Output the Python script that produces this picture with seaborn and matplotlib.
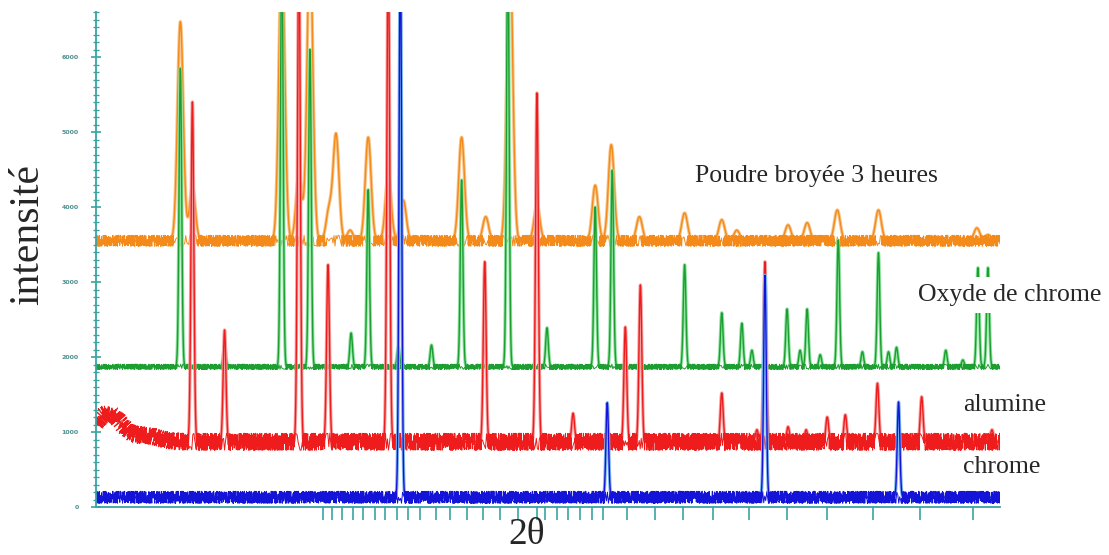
import numpy as np
import pandas as pd
import matplotlib
matplotlib.use("Agg")
import matplotlib.pyplot as plt
import seaborn as sns
from matplotlib.ticker import MultipleLocator, FixedLocator

sns.set_theme(style="white")
plt.rcParams["font.family"] = ["Liberation Serif", "DejaVu Serif"]
plt.rcParams["path.simplify"] = False

# ---------------- data ----------------
series_names = ["Poudre broyée 3 heures", "Oxyde de chrome", "alumine", "chrome"]

# Poudre broyée 3 heures (orange)
poudre_base = 3550
poudre_pos = [18.4, 19.6, 28.5, 30.2, 31.3, 33.2, 33.9, 35.3, 37.1, 39.1, 40.6, 46.4,
              48.8, 51.2, 53.9, 59.7, 61.3, 64.1, 68.6, 72.3, 73.8, 78.9, 80.8, 83.8,
              87.9, 97.7, 98.8]
poudre_int = [6470, 4270, 7500, 4430, 7500, 3960, 4960, 3690, 4930, 4430, 4090, 4930,
              3870, 7500, 4030, 4290, 4830, 3870, 3920, 3830, 3690, 3760, 3790, 3960,
              3960, 3720, 3630]

# Oxyde de chrome (green)
oxyde_base = 1870
oxyde_pos = [18.4, 22.8, 28.5, 31.3, 35.4, 37.1, 40.1, 43.4, 46.4, 51.0, 54.9, 59.7,
             61.4, 68.6, 72.3, 74.3, 75.3, 78.8, 80.1, 80.8, 82.1, 83.9, 86.3, 87.9,
             88.9, 89.7, 94.6, 96.3, 97.8, 98.8]
oxyde_int = [5850, 2160, 7500, 6100, 2320, 4230, 2130, 2160, 4360, 7500, 2390, 4000,
             4490, 3230, 2590, 2450, 2090, 2640, 2090, 2640, 2030, 3560, 2070, 3390,
             2070, 2130, 2090, 1960, 3190, 3190]

# alumine (red)
alumine_base = 870
alumine_pos = [19.6, 22.8, 30.2, 33.1, 39.1, 48.7, 53.9, 57.5, 62.7, 64.2, 72.3, 75.8,
               76.6, 78.9, 80.7, 82.8, 84.6, 87.8, 92.2, 99.2]
alumine_int = [5400, 2360, 7500, 3230, 7500, 3270, 5520, 1250, 2400, 2960, 1520, 1030,
               3270, 1070, 1030, 1200, 1230, 1650, 1470, 1030]
alumine_hump_pos = [11.2, 15.0]
alumine_hump_int = [1250, 950]

# chrome (blue)
chrome_base = 130
chrome_pos = [40.3, 60.9, 76.6, 89.9]
chrome_int = [7500, 1390, 3090, 1400]

y_ticks = [0, 1000, 2000, 3000, 4000, 5000, 6000]
x_tick_marks = [32.6, 33.5, 34.5, 35.6, 36.6, 37.8, 38.8, 40.0, 41.1, 42.3, 43.8, 45.2,
                46.9, 48.5, 50.2, 52.0, 53.9, 54.7, 55.9, 57.0, 58.2, 59.4, 60.5, 62.9,
                65.7, 68.4, 71.4, 75.0, 78.8, 82.8, 87.4, 92.0, 97.3]

# ---------------- build profiles from the peak lists ----------------
two_theta = np.arange(10.0, 100.0001, 0.02)


def gauss_sum(base, pos, inten, sigma):
    y = np.zeros_like(two_theta)
    for x0, a in zip(pos, inten):
        y += (a - base) * np.exp(-0.5 * ((two_theta - x0) / sigma) ** 2)
    return y


def build(base, pos, inten, sigma, hump_pos=(), hump_int=(), hump_sigma=1.3):
    broad = base + gauss_sum(base, hump_pos, hump_int, hump_sigma)
    full = broad + gauss_sum(base, pos, inten, sigma)
    return broad, full


curves = {
    series_names[0]: build(poudre_base, poudre_pos, poudre_int, 0.29),
    series_names[1]: build(oxyde_base, oxyde_pos, oxyde_int, 0.13),
    series_names[2]: build(alumine_base, alumine_pos, alumine_int, 0.14,
                           alumine_hump_pos, alumine_hump_int),
    series_names[3]: build(chrome_base, chrome_pos, chrome_int, 0.13),
}

styles = {
    series_names[0]: dict(color="#f38a1a", light="#f9c58a", noise=(5.5, 1.0, 4.0), cap=250),
    series_names[1]: dict(color="#1c9e30", light="#8fe3a0", noise=(2.6, 1.0, 4.0), cap=120),
    series_names[2]: dict(color="#ee1c1c", light="#f7a0a0", noise=(8.5, 1.0, 4.0), cap=200),
    series_names[3]: dict(color="#1414d8", light="#7fb6f0", noise=(6.0, 1.0, 4.0), cap=150),
}

# ---------------- figure ----------------
fig = plt.figure(figsize=(11.09, 5.55), dpi=100)
ax = fig.add_axes([96 / 1109, 48 / 555, 904 / 1109, 495 / 555])

for name in series_names:
    broad, y = curves[name]
    st = styles[name]
    df = pd.DataFrame({"2theta": two_theta, "I": y})
    sns.lineplot(data=df, x="2theta", y="I", color=st["light"], lw=2.4,
                 estimator=None, sort=False, ax=ax)
    sns.lineplot(data=df, x="2theta", y="I", color=st["color"], lw=1.0,
                 estimator=None, sort=False, ax=ax)
    noisy = np.where(y - broad < st["cap"], broad, np.nan)
    dfn = pd.DataFrame({"2theta": two_theta, "I": noisy})
    sns.lineplot(data=dfn, x="2theta", y="I", color=st["color"], lw=0.7,
                 estimator=None, sort=False, ax=ax)
    ax.lines[-1].set_sketch_params(*st["noise"])

ax.set_xlim(10, 100)
ax.set_ylim(0, 6600)
ax.set_xlabel("")
ax.set_ylabel("")

spine_col = "#38a4a4"
for s in ["top", "right"]:
    ax.spines[s].set_visible(False)
for s in ["left", "bottom"]:
    ax.spines[s].set_color(spine_col)
    ax.spines[s].set_linewidth(1.3)

ax.yaxis.set_major_locator(FixedLocator(y_ticks))
ax.yaxis.set_minor_locator(MultipleLocator(100))
ax.set_yticklabels([str(v) for v in y_ticks])
ax.tick_params(axis="y", which="major", direction="inout", length=7, width=1.2,
               color=spine_col, labelsize=4.5, labelcolor="#4f8f8f", pad=9, left=True)
ax.tick_params(axis="y", which="minor", direction="inout", length=4, width=1.0,
               color=spine_col, left=True)
for lab in ax.get_yticklabels():
    lab.set_family("DejaVu Sans")
    lab.set_fontweight("bold")

ax.xaxis.set_major_locator(FixedLocator(x_tick_marks))
ax.set_xticklabels([])
ax.tick_params(axis="x", which="major", direction="out", length=9, width=1.2,
               color=spine_col, bottom=True)

# ---------------- texts ----------------
fig.text(0.025, 0.577, "intensité", rotation=90, fontsize=30, ha="center", va="center")
fig.text(0.475, 0.036, "2θ", fontsize=27, ha="center", va="center")
fig.text(695 / 1109, 1 - 176 / 555, series_names[0], fontsize=18.5, ha="left", va="center")
fig.text(918 / 1109, 1 - 295 / 555, series_names[1], fontsize=18.5, ha="left", va="center",
         bbox=dict(facecolor="white", edgecolor="none", pad=5))
fig.text(963 / 1109, 1 - 405 / 555, series_names[2], fontsize=18.5, ha="left", va="center")
fig.text(963 / 1109, 1 - 467 / 555, series_names[3], fontsize=18.5, ha="left", va="center")

fig.savefig("out.png", dpi=100, facecolor="white")
